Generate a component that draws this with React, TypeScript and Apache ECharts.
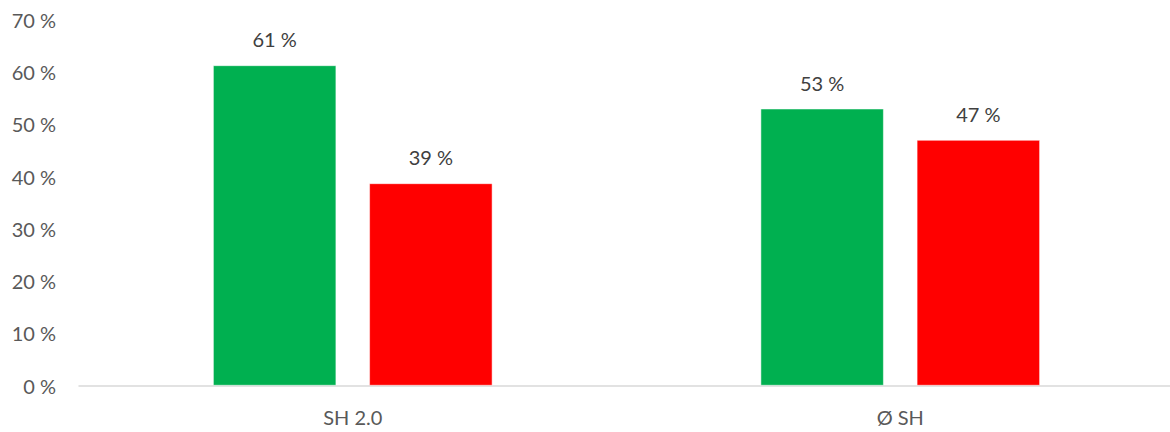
import React, { useEffect, useRef } from "react";
import * as echarts from "echarts";

const categories = ["SH 2.0", "Ø SH"];
const greenValues = [61.3, 53.0];
const redValues = [38.7, 47.0];
const yTicks = [0, 10, 20, 30, 40, 50, 60, 70];

const FONT = "Lato, 'Open Sans', 'Liberation Sans', sans-serif";

export default function App() {
  const ref = useRef<HTMLDivElement>(null);
  useEffect(() => {
    if (!ref.current) return;
    const chart = echarts.init(ref.current, undefined, { renderer: "svg" });
    const labelOpt = {
      show: true,
      position: "top",
      distance: 16,
      color: "#404040",
      fontSize: 20,
      fontFamily: FONT,
      formatter: (p: any) => `${Math.round(p.value)} %`,
    };
    chart.setOption({
      animation: false,
      grid: { left: 79, right: 0, top: 20, bottom: 46.5, containLabel: false },
      xAxis: {
        type: "category",
        data: categories,
        axisLine: { show: true, lineStyle: { color: "#D9D9D9", width: 1.5 } },
        axisTick: { show: false },
        axisLabel: { color: "#595959", fontSize: 20, fontFamily: FONT, margin: 21 },
      },
      yAxis: {
        type: "value",
        min: yTicks[0],
        max: yTicks[yTicks.length - 1],
        interval: 10,
        axisLine: { show: false },
        axisTick: { show: false },
        splitLine: { show: false },
        axisLabel: {
          color: "#595959",
          fontSize: 20,
          fontFamily: FONT,
          margin: 23,
          formatter: (v: number) => `${v} %`,
        },
      },
      series: [
        {
          type: "bar",
          data: greenValues,
          barWidth: 123,
          barGap: "27%",
          itemStyle: { color: "#00B050", borderColor: "#ffffff", borderWidth: 0.5 },
          label: labelOpt,
        },
        {
          type: "bar",
          data: redValues,
          barWidth: 123,
          barGap: "27%",
          itemStyle: { color: "#FF0000", borderColor: "#ffffff", borderWidth: 0.5 },
          label: labelOpt,
        },
      ],
    });
    return () => chart.dispose();
  }, []);
  return (
    <div
      ref={ref}
      style={{ position: "fixed", left: 0, top: 0, width: 1174, height: 432, background: "#fff" }}
    />
  );
}
